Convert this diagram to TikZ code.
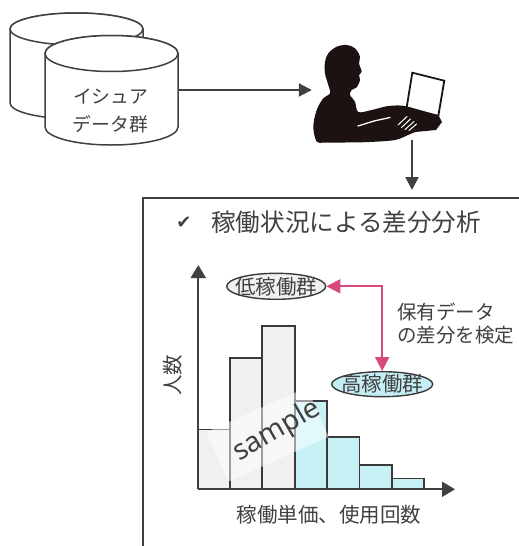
\documentclass[tikz,border=0pt]{standalone}
\usepackage{fontspec}
\setmainfont{Noto Sans}
\newfontfamily\jp{Noto Sans CJK JP}
\newfontfamily\symfont{DejaVu Sans}
\usetikzlibrary{arrows.meta,shapes.geometric}
\definecolor{ink}{HTML}{404040}
\definecolor{barline}{HTML}{3A3A3A}
\definecolor{grayfill}{HTML}{F0F0F0}
\definecolor{cyanfill}{HTML}{C8F1F6}
\definecolor{ellcyan}{HTML}{C5EEF4}
\definecolor{linkpink}{HTML}{D8477E}
\definecolor{figure}{HTML}{1C1212}
\begin{document}
\begin{tikzpicture}[x=1pt,y=-1pt,
  cyl/.style={draw=ink,fill=white,line width=1.5pt},
  flow/.style={draw=ink,line width=2pt,-{Triangle[length=13pt,width=13pt]}},
  axisline/.style={draw=ink,line width=2pt,-{Triangle[length=13pt,width=15pt]}},
  bar/.style={draw=barline,line width=1.6pt},
  ell/.style={ellipse,draw=barline,line width=1.4pt,inner sep=0pt},
  pinklink/.style={draw=linkpink,line width=1.8pt,
    {Triangle[length=14pt,width=14pt]}-{Triangle[length=14pt,width=14pt]}},
  lbl/.style={text=ink,inner sep=0pt,font=\jp\fontsize{20.5}{24}\selectfont},
]
\useasboundingbox (0,0) rectangle (519,546);
\clip (0,0) rectangle (519,546);
\fill[white] (0,0) rectangle (519,546);

% --- data store: two stacked cylinders ---
\filldraw[cyl] (10,29) -- (10,103)
  arc[start angle=180,end angle=0,x radius=66.5,y radius=16] -- (143,29)
  arc[start angle=0,end angle=-180,x radius=66.5,y radius=16] -- cycle;
\draw[cyl] (76.5,29) ellipse [x radius=66.5,y radius=16];
\filldraw[cyl] (45,53.5) -- (45,127)
  arc[start angle=180,end angle=0,x radius=66.5,y radius=18] -- (178,53.5)
  arc[start angle=0,end angle=-180,x radius=66.5,y radius=18] -- cycle;
\draw[cyl] (111.5,53.5) ellipse [x radius=66.5,y radius=18];
\node[inner sep=0pt,minimum width=133pt,minimum height=109.5pt] (db) at (111.5,90) {};
\node[text=ink,align=center,inner sep=0pt,font=\jp\fontsize{18.8}{28}\selectfont]
  (dbtext) at (110.5,111) {イシュア\\データ群};

% --- analyst at a laptop ---
\node[inner sep=0pt,minimum width=140pt,minimum height=105pt] (user) at (382,87.5) {};
\filldraw[fill=white,draw=figure,line width=1.8pt]
  (412.3,72.7) -- (444.3,80.7) -- (438.3,116) -- (406.7,107.3) -- cycle;
\fill[figure] (403,108) -- (438.3,115) -- (442,122) -- (436,130) -- (405,133) -- cycle;
\fill[figure] plot[smooth cycle,tension=0.55] coordinates {
  (316.7,141.7) (313.3,126.7) (316.7,110) (323.3,98.3) (330,93.3) (328.3,85)
  (325,73.3) (325,61.7) (328.3,53.3) (336.7,46.7) (346.7,45) (355,48.3)
  (360,56.7) (359,63.3) (361.7,71.7) (359,75) (360,80) (356.7,87.3)
  (351.7,90) (350,95) (355,101.7) (358.3,112) (371.7,110) (388.3,106)
  (405,106) (416.7,111.7) (421.7,121.7) (418.3,130) (408,135) (395,140)
  (370,142) (345,142.5) (325,142.5)};
% light gaps between the arms and between the fingers
\draw[white,line width=1.3pt,line cap=round] (358,126) -- (374,121) -- (390,117.5);
\draw[white,line width=1pt,line cap=round] (398,125) -- (407,116.5) (401.5,127.5) -- (410.5,119)
  (405,129.5) -- (414,121.5) (409,130.5) -- (416.5,124);

% --- flow arrows ---
\draw[flow] (db.east) -- (db.east -| user.west);
\node[inner sep=0pt,minimum width=400pt,minimum height=380pt,anchor=north west]
  (panel) at (143,198) {};
\draw[flow,shorten >=8pt] ([xshift=30pt]user.south) -- ([xshift=30pt]user.south |- panel.north);
\draw[ink,line width=2pt] (panel.south west) -- (panel.north west) -- (panel.north east);

% --- panel title ---
\node[text=ink,inner sep=0pt,font=\symfont\fontsize{18}{22}\selectfont] (tick) at (184,222.5) {✔};
\node[text=ink,inner sep=0pt,anchor=west,font=\jp\fontsize{24.6}{28}\selectfont]
  (title) at (211,222) {稼働状況による差分分析};

% --- histogram ---
\coordinate (origin) at (198.3,489.3);
\coordinate (ytip) at (198.3,265);
\coordinate (xtip) at (455,489.3);
\filldraw[bar,fill=grayfill] (198.3,489.3) rectangle (230,429.3);
\filldraw[bar,fill=grayfill] (230,489.3) rectangle (261.7,357.7);
\filldraw[bar,fill=grayfill] (261.7,489.3) rectangle (295,326);
\filldraw[bar,fill=cyanfill] (295,489.3) rectangle (326.7,400.7);
\filldraw[bar,fill=cyanfill] (326.7,489.3) rectangle (359.3,436.7);
\filldraw[bar,fill=cyanfill] (359.3,489.3) rectangle (391.7,465);
\filldraw[bar,fill=cyanfill] (391.7,489.3) rectangle (424,478.3);
\draw[axisline] (origin) -- (ytip);
\draw[axisline] (origin) -- (xtip);

% watermark
\node[rotate=24,fill=white,fill opacity=0.5,inner sep=0pt,
  minimum width=110pt,minimum height=54pt] (wmband) at (267.5,434.5) {};
\node[rotate=30,text=ink,inner sep=0pt,font=\fontsize{28}{30}\selectfont]
  (wmtext) at (277,431) {sample};

% groups and their comparison
\node[ell,fill=grayfill,minimum width=99pt,minimum height=26pt] (low) at (276.2,286.3) {};
\node[lbl] (lowtext) at (low) {低稼働群};
\node[ell,fill=ellcyan,minimum width=101pt,minimum height=25pt] (high) at (382.2,384.2) {};
\node[lbl] (hightext) at (high) {高稼働群};
\draw[pinklink] (low.east) -| (high.north);
\node[text=ink,inner sep=0pt,anchor=west,align=left,font=\jp\fontsize{19.5}{23.5}\selectfont]
  (note) at (397,323.5) {保有データ\\の差分を検定};

% axis labels
\node[lbl,rotate=90] (ylabel) at (173,375) {人数};
\node[lbl] (xlabel) at (329,515) {稼働単価、使用回数};
\end{tikzpicture}
\end{document}
